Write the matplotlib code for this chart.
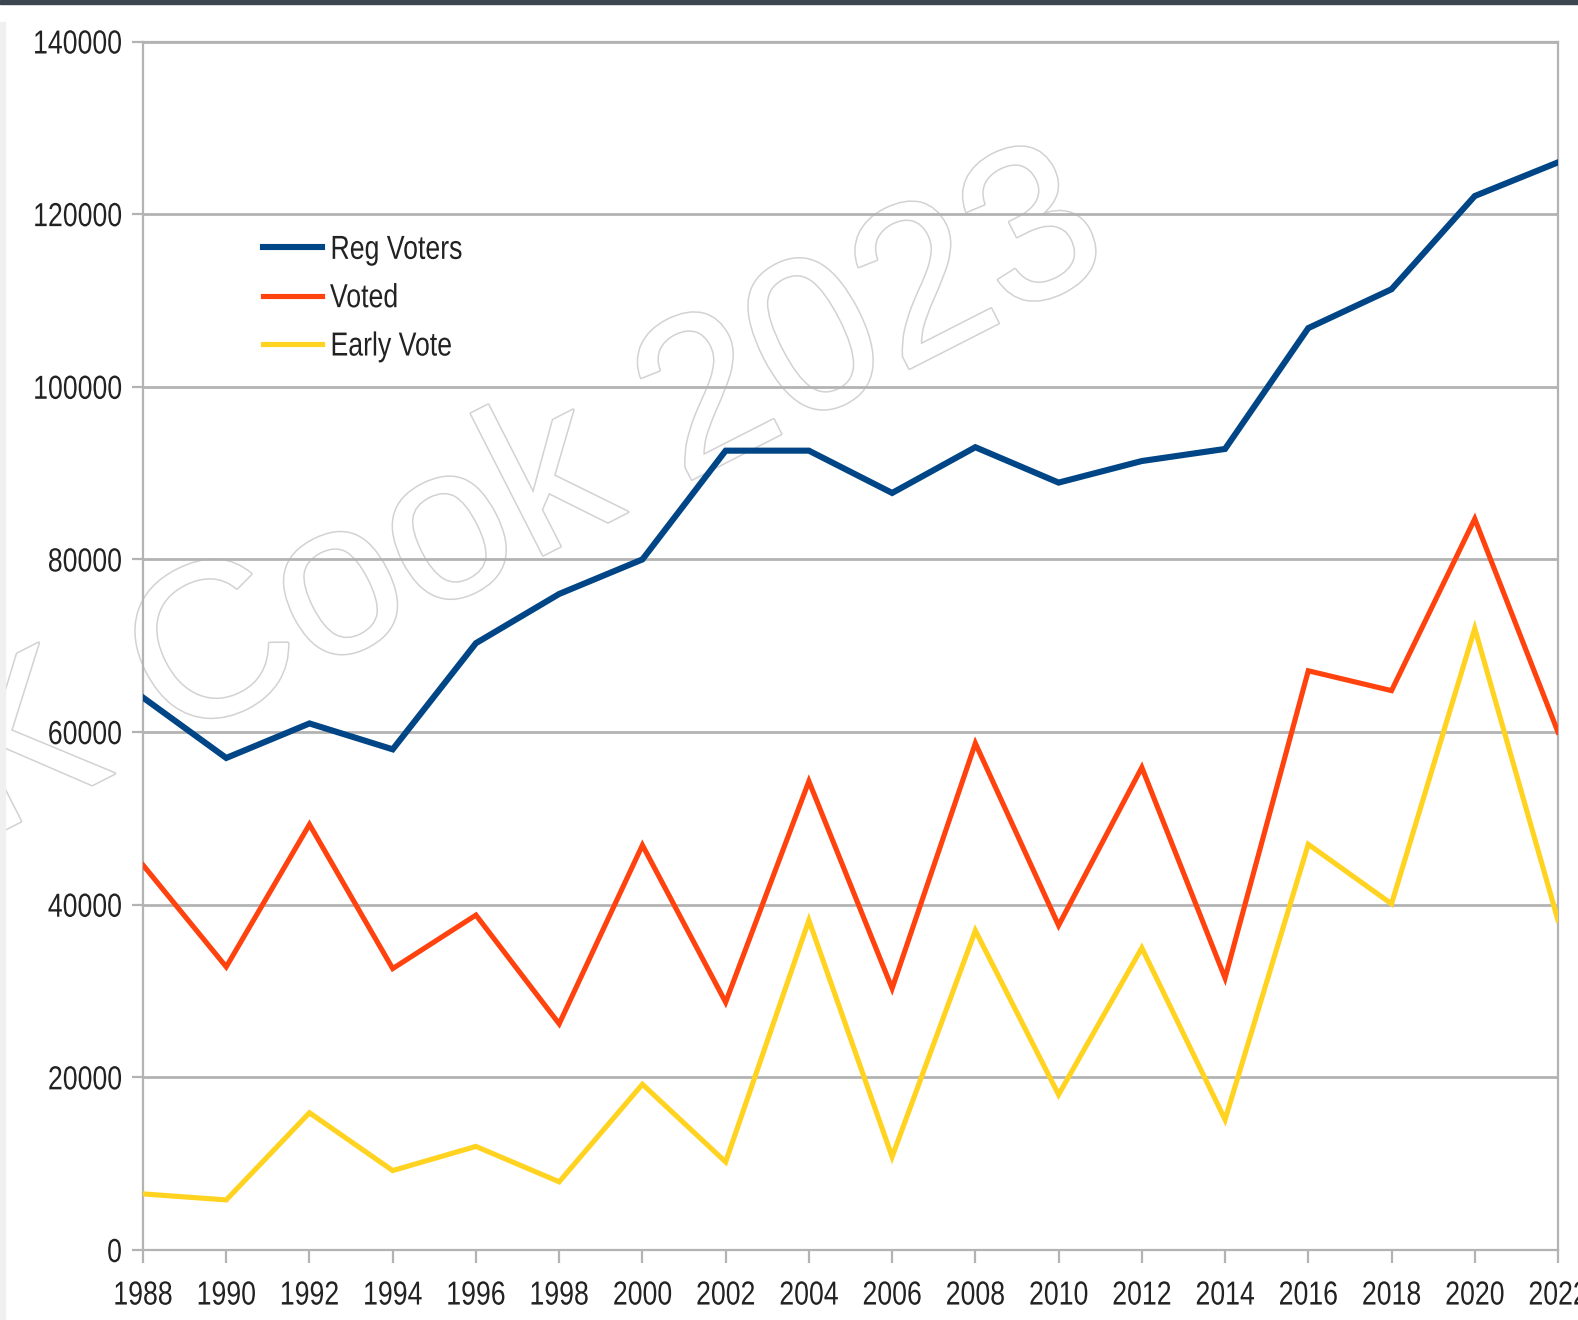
import matplotlib
matplotlib.use("Agg")
import matplotlib.pyplot as plt
import matplotlib.patheffects as pe
from matplotlib.patches import Rectangle
from matplotlib.transforms import Affine2D

# Data
years = list(range(1988, 2023, 2))
regVoters = [64000, 57000, 61000, 58000, 70300, 76000, 80000, 92600, 92600,
             87700, 93000, 88900, 91400, 92800, 106800, 111300, 122100, 126000]
voted = [44600, 32800, 49300, 32600, 38800, 26200, 46900, 28700, 54300,
         30300, 58700, 37600, 55900, 31500, 67100, 64800, 84700, 60000]
earlyVote = [6500, 5800, 15900, 9200, 12000, 7900, 19200, 10200, 38200,
             10800, 37000, 18000, 35000, 15100, 47000, 40100, 72000, 38200]
seriesNames = ["Reg Voters", "Voted", "Early Vote"]
seriesColors = ["#004586", "#ff420e", "#ffd320"]
seriesWidths = [4.4, 3.7, 3.7]
yTicks = list(range(0, 140001, 20000))


# Squeeze text horizontally (no narrow font installed)
class Squeeze(pe.AbstractPathEffect):
    def __init__(self, sx=0.8, anchor="center"):
        super().__init__()
        self.sx = sx
        self.anchor = anchor

    def draw_path(self, renderer, gc, tpath, affine, rgbFace=None):
        ext = tpath.get_extents(affine)
        if self.anchor == "left":
            x0 = ext.x0
        elif self.anchor == "right":
            x0 = ext.x1
        else:
            x0 = (ext.x0 + ext.x1) / 2
        t = affine + Affine2D().translate(-x0, 0).scale(self.sx, 1).translate(x0, 0)
        renderer.draw_path(gc, tpath, t, rgbFace)


plt.rcParams['font.family'] = ['Liberation Sans', 'DejaVu Sans']

W, H = 1578, 1320
fig = plt.figure(figsize=[W / 100, H / 100], dpi=100)
ax = fig.add_axes([143 / W, 1 - 1250 / H, (1558 - 143) / W, (1250 - 41.5) / H])

# Watermark (drawn under the axes)
fig.text(526 / W, 1 - 500 / H, "K Cook 2023", fontsize=158, rotation=27,
         ha="center", va="center", color="white", zorder=-1,
         path_effects=[pe.withStroke(linewidth=2.2, foreground="#d2d2d2")])

for vals, name, col, lw in zip([regVoters, voted, earlyVote], seriesNames, seriesColors, seriesWidths):
    ax.plot(years, vals, color=col, lw=lw, label=name, solid_joinstyle="miter", zorder=3)

ax.set_xlim(1988, 2022)
ax.set_ylim(0, 140000)
ax.set_xticks(years)
ax.set_yticks(yTicks)
ax.set_yticklabels([str(v) for v in yTicks])
ax.grid(axis="y", color="#b3b3b3", lw=2)
ax.set_axisbelow(True)
for side in ["left", "bottom", "right", "top"]:
    ax.spines[side].set_color("#b3b3b3")
    ax.spines[side].set_linewidth(1.6)
ax.tick_params(axis="both", colors="#b3b3b3", labelcolor="#222222", labelsize=24,
               width=1.6)
ax.tick_params(axis="x", length=9, pad=13)
ax.tick_params(axis="y", length=8, pad=7)
ax.patch.set_alpha(0)
plt.setp(ax.get_xticklabels(), path_effects=[Squeeze(0.8, "center")])
plt.setp(ax.get_yticklabels(), path_effects=[Squeeze(0.8, "right")])

leg = ax.legend(loc="upper left", bbox_to_anchor=(0.085, 0.840), frameon=False,
                fontsize=24, handlelength=1.75, handletextpad=0.25, labelspacing=0.52,
                borderpad=0, borderaxespad=0)
for t in leg.get_texts():
    t.set_path_effects([Squeeze(0.8, "left")])
    t.set_color("#222222")

# Screenshot frame bits
fig.patches.append(Rectangle((0, 1 - 4 / H), 1, 4 / H, transform=fig.transFigure,
                             color="#3c4650", zorder=10))
fig.patches.append(Rectangle((0, 0), 5 / W, 1 - 22 / H, transform=fig.transFigure,
                             color="#f0f0f0", zorder=10))

plt.savefig("out.png")
